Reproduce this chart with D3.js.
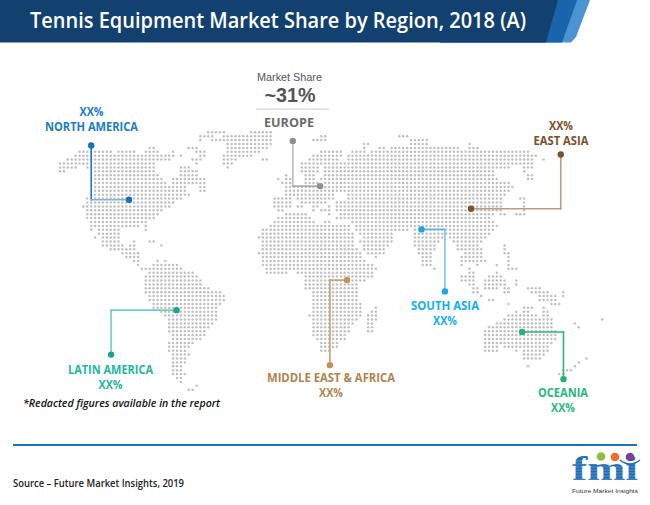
<!DOCTYPE html>
<html><head><meta charset="utf-8">
<script src="https://cdnjs.cloudflare.com/ajax/libs/d3/7.8.5/d3.min.js"></script>
<style>html,body{margin:0;padding:0;background:#fff}svg{display:block}text{font-family:"Open Sans",sans-serif}</style>
</head><body><div id="c"></div>
<script>
const titleText = "Tennis Equipment Market Share by Region, 2018 (A)";
const sourceText = "Source – Future Market Insights, 2019";
const noteText = "*Redacted figures available in the report";
// Dot-map land: one entry per grid row, pairs of first/last column
const landRows = [
[38,42,49,54],
[36,39,42,54,67,68,87,89],
[36,36,39,54,65,68,90,94],
[43,54,78,79,90,94,105,105],
[23,24,33,35,43,53,78,78,82,83,85,102,105,107],
[5,13,15,19,22,25,29,29,35,37,43,51,67,72,75,78,80,120],
[4,29,31,31,36,37,42,49,65,72,74,122],
[2,28,34,36,42,45,52,53,64,71,74,121,124,124],
[0,7,9,24,35,35,42,44,62,121],
[0,4,7,24,31,33,43,43,62,66,68,115,119,121],
[0,1,9,24,31,35,62,66,68,111,119,119],
[9,25,31,35,58,58,63,65,68,111,120,121],
[9,26,29,37,56,56,58,59,63,65,67,112,120,121],
[9,27,29,37,57,59,63,66,68,115],
[9,32,36,37,58,59,60,116],
[9,32,36,37,58,115],
[9,33,58,70,74,114],
[7,7,9,31,55,59,61,70,74,113,118,119],
[7,29,55,59,62,68,71,113,119,119],
[6,28,55,59,61,62,65,66,69,69,71,113,119,119],
[7,26,56,57,65,65,67,69,71,113,119,119],
[7,25,58,63,69,69,72,111,113,114,117,119],
[7,24,56,64,71,110],
[8,22,55,65,68,69,75,111],
[8,20,22,22,54,74,76,112],
[8,8,10,15,22,22,52,74,76,89,91,111],
[10,15,52,75,77,85,91,110],
[9,9,11,15,51,75,78,85,91,98,100,109],
[11,15,19,19,23,24,52,75,77,85,91,97,101,108],
[11,16,18,19,26,26,52,75,78,84,91,96,102,107,114,114],
[13,19,52,76,78,83,92,96,102,108,114,114],
[16,20,51,77,79,83,92,95,104,108,114,115],
[17,20,52,77,81,81,93,95,103,108,115,115],
[19,20,25,25,27,27,52,78,93,95,103,109,115,115],
[20,20,24,30,52,80,93,95,103,103,107,107,112,112,115,115],
[21,31,53,81,96,96,105,105,115,117],
[23,34,53,58,61,80,105,106,112,112],
[22,35,63,80,103,106,110,113],
[22,36,63,78,103,106,109,114,117,117],
[22,36,63,76,105,106,109,114,117,117],
[22,38,63,76,106,107,109,112,114,115,120,123],
[22,41,65,76,106,107,114,115,121,125,129,129],
[23,42,65,76,108,108,123,126,127,127,129,129],
[23,42,65,76,110,111,123,127],
[24,41,65,77,115,115,126,128],
[24,40,65,77,81,81,119,121,124,124],
[26,40,65,77,80,81,117,117,119,120,124,125],
[27,40,64,77,79,81,115,122,124,125],
[28,40,65,76,79,81,114,126,139,139],
[28,39,65,75,79,80,112,126,132,132],
[28,38,65,74,79,80,110,126,133,133],
[28,37,65,74,79,80,109,127],
[29,37,65,73,109,127],
[29,36,66,73,109,127],
[28,34,67,71,109,126],
[28,33,67,71,109,112,114,125],
[28,32,67,69,109,112,117,117,119,125],
[29,33,119,124],
[29,32,119,123,135,135],
[29,32,133,133],
[29,31,120,120,132,132],
[29,31,129,131],
[29,32,128,129],
[30,31],
[31,31],
[35,35],
[33,34]
];
const colCount = 141, rowCount = 66;
// Call-outs in grid units: marker A, marker B, which leg leaves A first
const leaderNames = ["North America","Europe","East Asia","South Asia","Latin America","Middle East & Africa","Oceania"];
const leaderA = [[8,3.4],[59.7,2.2],[128.4,5.7],[92.7,24.9],[29.9,45.6],[73.6,37.9],[118.5,51.2]];
const leaderB = [[17.7,17.3],[66.7,13.8],[105.4,19.6],[98.7,40.8],[13.1,57],[69.2,59.7],[129.1,63.3]];
const leaderFirst = ["v","v","v","h","h","h","h"];
const markerColors = ["#1470bd","#8e8e8e","#7d5230","#1ea4e0","#14a890","#bf935c","#1fb573"];
const verticalLegColors = ["#1f7cc6","#bcbcbc","#b89c86","#79c8ee","#6cd0bf","#c9a070","#2db97b"];
const horizontalLegColors = ["#7fb2dd","#a8a8a8","#b89c86","#4fb4e6","#6cd0bf","#c9a070","#2db97b"];
// Region labels
const regionLabels = ["XX%|NORTH AMERICA","EUROPE","XX%|EAST ASIA","SOUTH ASIA|XX%","LATIN AMERICA|XX%","MIDDLE EAST & AFRICA|XX%","OCEANIA|XX%"];
const labelColors = ["#1b7cc6","#6b6b6b","#7a4f2e","#12aef0","#1fb7a0","#b0844f","#27b77d"];

const W=650,H=505;
const svg=d3.select("#c").append("svg").attr("width",W).attr("height",H);
const x=d3.scaleLinear().domain([0,colCount]).range([60,60+colCount*3.9]);
const y=d3.scaleLinear().domain([0,rowCount]).range([132.3,132.3+rowCount*3.9]);

// Header band
const band=[["#4b93d3",[[440,0],[590,0],[576,37],[571,42.5],[440,42.5]]],
            ["#1a63ad",[[440,0],[577,0],[562,42.5],[440,42.5]]],
            ["#12416f",[[0,0],[558,0],[546,42.5],[0,42.5]]]];
svg.selectAll("polygon.band").data(band).join("polygon").attr("class","band")
  .attr("points",d=>d[1].join(" ")).attr("fill",d=>d[0]);
svg.append("text").attr("x",30).attr("y",27.5).attr("fill","#fff").attr("font-size",21.5).attr("font-weight",600)
  .attr("textLength",496).attr("lengthAdjust","spacingAndGlyphs").text(titleText);

// Dot map
const dots=[];
landRows.forEach((spans,r)=>{
  for(let i=0;i<spans.length;i+=2) d3.range(spans[i],spans[i+1]+1).forEach(c=>dots.push([c,r]));
});
svg.append("g").selectAll("circle").data(dots).join("circle")
  .attr("cx",d=>x(d[0])).attr("cy",d=>y(d[1])).attr("r",1.25).attr("fill","#c0c0c0");

// Leaders
const lg=svg.append("g");
leaderNames.forEach((n,i)=>{
  const a=leaderA[i],b=leaderB[i];
  const e=leaderFirst[i]==="v"?[a[0],b[1]]:[b[0],a[1]];
  [[a,e],[e,b]].forEach(seg=>{
    const vertical=seg[0][0]===seg[1][0];
    lg.append("line").attr("x1",x(seg[0][0])).attr("y1",y(seg[0][1])).attr("x2",x(seg[1][0])).attr("y2",y(seg[1][1]))
      .attr("stroke",vertical?verticalLegColors[i]:horizontalLegColors[i]).attr("stroke-width",1.6).attr("stroke-linecap","square");
  });
  [a,b].forEach(p=>lg.append("circle").attr("cx",x(p[0])).attr("cy",y(p[1])).attr("r",3.2).attr("fill",markerColors[i]));
});

function label(i,cx,by,gap,lens,size){
  regionLabels[i].split("|").forEach((t,k)=>{
    svg.append("text").attr("x",cx).attr("y",by+k*gap).attr("text-anchor","middle")
      .attr("font-size",size||11.5).attr("font-weight",700).attr("fill",labelColors[i])
      .attr("textLength",lens[k]).attr("lengthAdjust","spacingAndGlyphs").text(t);
  });
}
label(0,91.5,116,15,[24,93]);
label(1,289,127,0,[50],13);
label(2,561,130,15,[24,55]);
label(3,445,310,14.5,[68,24]);
label(4,110.5,374,14.5,[85,24]);
label(5,331,382,15,[128,24]);
label(6,563,397,15,[50,24]);

svg.append("text").attr("x",289.5).attr("y",81).attr("text-anchor","middle").attr("font-size",11.5)
  .attr("fill","#555").attr("textLength",65).attr("lengthAdjust","spacingAndGlyphs")
  .style("font-family","'Liberation Sans',sans-serif").text("Market Share");
svg.append("text").attr("x",290).attr("y",102).attr("text-anchor","middle").attr("font-size",20)
  .attr("font-weight",700).attr("fill","#555").attr("textLength",51).attr("lengthAdjust","spacingAndGlyphs")
  .style("font-family","'Liberation Sans',sans-serif").text("~31%");
svg.append("line").attr("x1",256).attr("x2",329).attr("y1",109).attr("y2",109).attr("stroke","#ccc").attr("stroke-width",1);

svg.append("text").attr("x",23).attr("y",407).attr("font-size",11).attr("font-style","italic").attr("font-weight",600)
  .attr("fill","#111").attr("textLength",197).attr("lengthAdjust","spacingAndGlyphs").text(noteText);

// Footer
svg.append("line").attr("x1",13).attr("x2",637).attr("y1",445).attr("y2",445).attr("stroke","#1b75bb").attr("stroke-width",2);
svg.append("text").attr("x",13).attr("y",487).attr("font-size",11).attr("font-weight",600).attr("fill","#222")
  .attr("textLength",171).attr("lengthAdjust","spacingAndGlyphs").text(sourceText);

// Logo
const logo=svg.append("g");
logo.append("text").attr("x",572).attr("y",480).attr("font-size",33).attr("font-weight",700)
  .attr("fill","#1c6db5").attr("textLength",66).attr("lengthAdjust","spacingAndGlyphs")
  .style("font-family","'Liberation Serif',serif").text("fmi");
logo.selectAll("line").data(d3.range(461,481,3)).join("line")
  .attr("x1",572).attr("x2",638).attr("y1",d=>d).attr("y2",d=>d).attr("stroke","#fff").attr("stroke-width",.5).attr("opacity",.55);
logo.append("path").attr("d","M620 460 Q630 468 640 460").attr("fill","none").attr("stroke","#1c6db5").attr("stroke-width",1.6);
[[601,456.5,"#8dbf3f"],[615,457,"#ef6c2d"],[630,457,"#7c3f98"]].forEach(c=>
  logo.append("circle").attr("cx",c[0]).attr("cy",c[1]).attr("r",4.3).attr("fill",c[2]));
logo.append("text").attr("x",572).attr("y",492.5).attr("font-size",5.5).attr("fill","#333")
  .style("font-family","'Liberation Sans',sans-serif")
  .attr("textLength",66).attr("lengthAdjust","spacingAndGlyphs").text("Future Market Insights");
</script></body></html>
